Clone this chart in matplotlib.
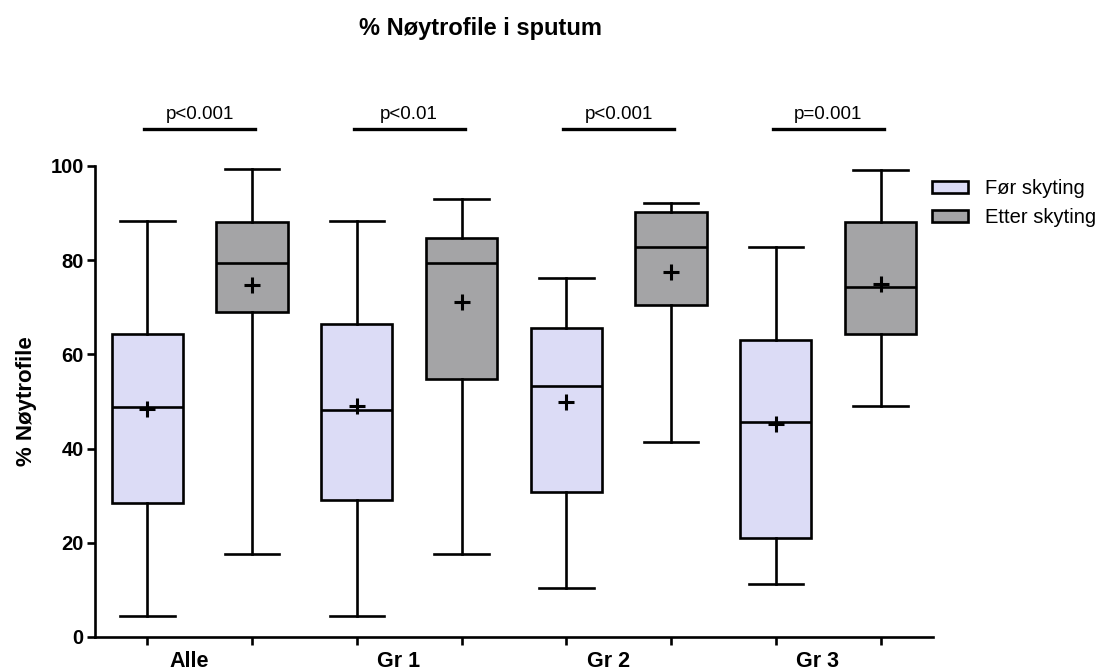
import numpy as np
import matplotlib
matplotlib.use("Agg")
import matplotlib.pyplot as plt
from matplotlib.patches import Patch

plt.rcParams['font.family'] = ['Liberation Sans', 'DejaVu Sans']

# data (whisker low, Q1, median, Q3, whisker high, mean)
groups = ['Alle', 'Gr 1', 'Gr 2', 'Gr 3']
series = ['Før skyting', 'Etter skyting']
for_low = [4.5, 4.5, 10.4, 11.3]
for_q1 = [28.4, 29.1, 30.8, 21.0]
for_med = [48.8, 48.2, 53.3, 45.6]
for_q3 = [64.3, 66.5, 65.6, 63.1]
for_high = [88.3, 88.3, 76.2, 82.8]
for_mean = [48.4, 49.1, 49.9, 45.3]
etter_low = [17.6, 17.6, 41.4, 49.0]
etter_q1 = [69.0, 54.8, 70.5, 64.3]
etter_med = [79.3, 79.4, 82.8, 74.3]
etter_q3 = [88.1, 84.7, 90.2, 88.1]
etter_high = [99.4, 93.0, 92.1, 99.2]
etter_mean = [74.7, 71.2, 77.5, 75.0]
p_labels = ['p<0.001', 'p<0.01', 'p<0.001', 'p=0.001']

col_for = '#dcdcf6'
col_etter = '#a4a4a6'

fig = plt.figure(figsize=(11.04, 6.71), dpi=100)
ax = fig.add_axes([0.086, 0.0507, 0.759, 0.702])


def make_stats(low, q1, med, q3, high, mean):
    return [dict(whislo=a, q1=b, med=c, q3=d, whishi=e, mean=f, fliers=[])
            for a, b, c, d, e, f in zip(low, q1, med, q3, high, mean)]


pos_for = np.arange(len(groups)) * 2
pos_etter = pos_for + 1
lw = 1.9
common = dict(widths=0.68, patch_artist=True, showmeans=True, manage_ticks=False,
              whiskerprops=dict(color='black', linewidth=lw),
              capprops=dict(color='black', linewidth=lw),
              medianprops=dict(color='black', linewidth=lw),
              meanprops=dict(marker='+', markeredgecolor='black', markersize=12, markeredgewidth=2.2))

b1 = ax.bxp(make_stats(for_low, for_q1, for_med, for_q3, for_high, for_mean),
            positions=pos_for, **common)
b2 = ax.bxp(make_stats(etter_low, etter_q1, etter_med, etter_q3, etter_high, etter_mean),
            positions=pos_etter, **common)
for b, c in [(b1, col_for), (b2, col_etter)]:
    for box in b['boxes']:
        box.set_facecolor(c)
        box.set_edgecolor('black')
        box.set_linewidth(lw)
    for cap in b['caps']:
        x = cap.get_xdata()
        mid = (x[0] + x[1]) / 2
        cap.set_xdata([mid - 0.26, mid + 0.26])

ax.set_xlim(-0.5, 7.5)
ax.set_ylim(0, 100)
ax.set_yticks([0, 20, 40, 60, 80, 100])
ax.set_xticks(np.arange(8))
ax.set_xticklabels([''] * 8)
ax.tick_params(axis='both', width=lw, length=6, labelsize=14.5, pad=2)
for lab in ax.get_yticklabels():
    lab.set_fontweight('bold')
for s in ['top', 'right']:
    ax.spines[s].set_visible(False)
for s in ['left', 'bottom']:
    ax.spines[s].set_linewidth(lw)

for i, g in enumerate(groups):
    ax.text(pos_for[i] + 0.4, -3.0, g, ha='center', va='top', fontsize=15.5,
            fontweight='bold')
    ax.plot([pos_for[i] - 0.03, pos_etter[i] + 0.03], [107.9, 107.9], color='black',
            linewidth=2.4, clip_on=False)
    ax.text((pos_for[i] + pos_etter[i]) / 2, 109.2, p_labels[i], ha='center',
            va='bottom', fontsize=13.5)

ax.set_ylabel('% Nøytrofile', fontsize=16, fontweight='bold', labelpad=10)
fig.text(0.435, 0.958, '% Nøytrofile i sputum', ha='center', va='center',
         fontsize=17, fontweight='bold')

handles = [Patch(facecolor=col_for, edgecolor='black', linewidth=lw),
           Patch(facecolor=col_etter, edgecolor='black', linewidth=lw)]
fig.legend(handles, series, loc='upper left', bbox_to_anchor=(0.828, 0.76),
           frameon=False, fontsize=14.5, handlelength=1.8, handleheight=0.55,
           labelspacing=0.5, handletextpad=0.8)

fig.savefig('out.png', dpi=100)
